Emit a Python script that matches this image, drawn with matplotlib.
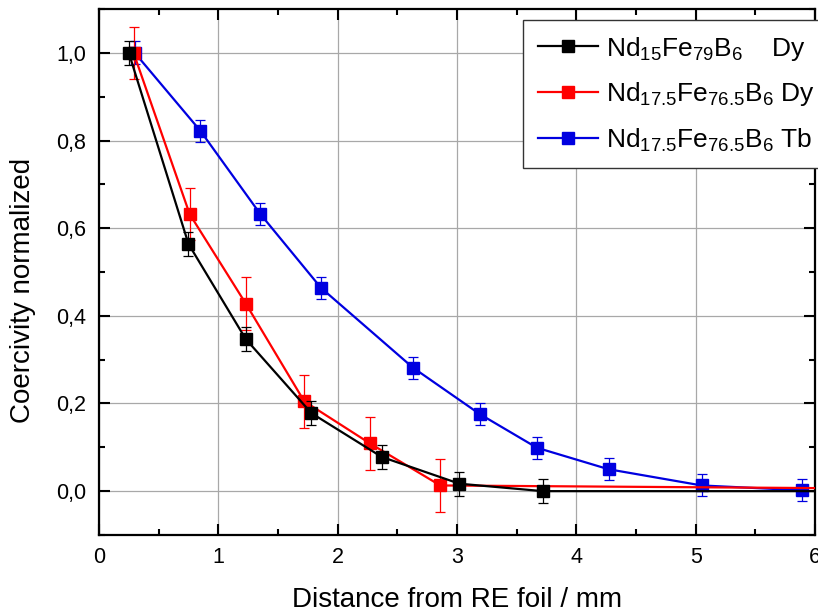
import matplotlib
matplotlib.use("Agg")
import matplotlib.pyplot as plt
from matplotlib.ticker import MultipleLocator, FuncFormatter

plt.rcParams['font.family'] = ['Liberation Sans', 'DejaVu Sans']
plt.rcParams['mathtext.fontset'] = 'custom'
plt.rcParams['mathtext.rm'] = 'Liberation Sans'
plt.rcParams['mathtext.it'] = 'Liberation Sans:italic'
plt.rcParams['mathtext.bf'] = 'Liberation Sans:bold'

# Nd15Fe79B6 with Dy
x_nd15_dy = [0.25, 0.75, 1.23, 1.78, 2.37, 3.02, 3.72, 6.0]
y_nd15_dy = [1.0, 0.564, 0.347, 0.178, 0.078, 0.017, 0.0, 0.0]
e_nd15_dy = [0.027, 0.027, 0.027, 0.027, 0.027, 0.027, 0.027, 0.0]

# Nd17.5Fe76.5B6 with Dy
x_nd175_dy = [0.29, 0.76, 1.23, 1.72, 2.27, 2.86, 6.0]
y_nd175_dy = [1.0, 0.632, 0.428, 0.205, 0.109, 0.013, 0.007]
e_nd175_dy = [0.06, 0.06, 0.06, 0.06, 0.06, 0.06, 0.0]

# Nd17.5Fe76.5B6 with Tb
x_nd175_tb = [0.30, 0.85, 1.35, 1.86, 2.63, 3.19, 3.67, 4.27, 5.05, 5.89]
y_nd175_tb = [1.0, 0.822, 0.633, 0.464, 0.282, 0.176, 0.099, 0.050, 0.013, 0.002]
e_nd175_tb = [0.026, 0.025, 0.025, 0.025, 0.025, 0.025, 0.025, 0.025, 0.025, 0.025]

labels = [
    r'Nd$_{15}$Fe$_{79}$B$_{6}$    Dy',
    r'Nd$_{17.5}$Fe$_{76.5}$B$_{6}$ Dy',
    r'Nd$_{17.5}$Fe$_{76.5}$B$_{6}$ Tb',
]

fig = plt.figure(figsize=(8.18, 6.14), dpi=100)
ax = fig.add_axes([0.121, 0.1287, 0.8753, 0.8566])

series = [
    (x_nd175_tb, y_nd175_tb, e_nd175_tb, '#0000e0', labels[2], 2, None),
    (x_nd175_dy, y_nd175_dy, e_nd175_dy, '#ff0000', labels[1], 3, list(range(6))),
    (x_nd15_dy, y_nd15_dy, e_nd15_dy, '#000000', labels[0], 4, list(range(7))),
]
handles = {}
for xs, ys, es, col, lab, z, mev in series:
    n = len(xs) if mev is None else len(mev)
    # error bars only on measured points
    ax.errorbar(xs[:n], ys[:n], yerr=es[:n], fmt='none', ecolor=col,
                elinewidth=0.9, capsize=3.5, capthick=0.9, zorder=z)
    line, = ax.plot(xs, ys, color=col, marker='s', markersize=8,
                    linewidth=1.6, markevery=mev, zorder=z + 0.5, label=lab)
    handles[lab] = line

ax.set_xlim(0, 6)
ax.set_ylim(-0.1, 1.1)
ax.xaxis.set_major_locator(MultipleLocator(1))
ax.xaxis.set_minor_locator(MultipleLocator(0.5))
ax.yaxis.set_major_locator(MultipleLocator(0.2))
ax.yaxis.set_minor_locator(MultipleLocator(0.1))
ax.yaxis.set_major_formatter(FuncFormatter(lambda v, p: f'{v:.1f}'.replace('.', ',').replace('-0,0', '0,0')))
ax.xaxis.set_major_formatter(FuncFormatter(lambda v, p: f'{v:.0f}'))

ax.grid(True, which='major', color='#a8a8a8', linewidth=0.9)
ax.set_axisbelow(True)
for s in ax.spines.values():
    s.set_linewidth(1.6)
ax.tick_params(which='both', direction='in', top=True, right=True,
               width=1.5, labelsize=15.5)
ax.tick_params(which='major', length=8, pad=9)
ax.tick_params(which='minor', length=4.5)

ax.set_xlabel('Distance from RE foil / mm', fontsize=20, labelpad=13)
ax.set_ylabel('Coercivity normalized', fontsize=20)
ax.yaxis.set_label_coords(-0.088, 0.465)

leg = fig.legend([handles[l] for l in labels], labels, loc='upper left',
                 bbox_to_anchor=(523 / 818, 1 - 20 / 614), fontsize=19,
                 frameon=True, fancybox=False, framealpha=1, edgecolor='#333333',
                 borderpad=0.55, handlelength=2.3, handletextpad=0.3,
                 labelspacing=0.68, borderaxespad=0)
leg.get_frame().set_linewidth(1.0)

fig.savefig('out.png', dpi=100)
